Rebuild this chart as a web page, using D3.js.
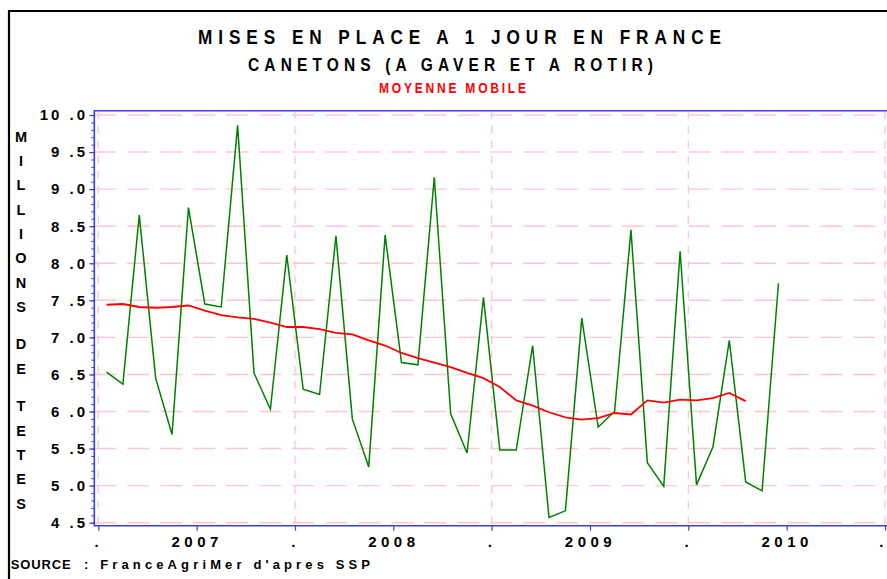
<!DOCTYPE html>
<html>
<head>
<meta charset="utf-8">
<title>Mises en place a 1 jour en France</title>
<style>
  body { margin: 0; background: #fff; }
  svg { display: block; font-family: "Liberation Sans", Arial, sans-serif; font-weight: bold; }
</style>
</head>
<body>
<script src="https://cdn.jsdelivr.net/npm/d3@7/dist/d3.min.js"></script>
<script>
// monthly placements, Jan 2007 .. Jun 2010 (millions of heads)
const months = [
  "2007-01","2007-02","2007-03","2007-04","2007-05","2007-06","2007-07","2007-08","2007-09","2007-10","2007-11","2007-12",
  "2008-01","2008-02","2008-03","2008-04","2008-05","2008-06","2008-07","2008-08","2008-09","2008-10","2008-11","2008-12",
  "2009-01","2009-02","2009-03","2009-04","2009-05","2009-06","2009-07","2009-08","2009-09","2009-10","2009-11","2009-12",
  "2010-01","2010-02","2010-03","2010-04","2010-05","2010-06"
];
const mises = [
  6.53, 6.37, 8.65, 6.45, 5.69, 8.75, 7.45, 7.41, 9.86, 6.52, 6.03, 8.11,
  6.30, 6.23, 8.37, 5.90, 5.25, 8.38, 6.66, 6.63, 9.16, 5.97, 5.44, 7.54,
  5.48, 5.48, 6.89, 4.57, 4.66, 7.26, 5.79, 6.00, 8.45, 5.31, 4.99, 8.16,
  5.01, 5.52, 6.96, 5.05, 4.93, 7.73
];
// moyenne mobile (first 40 months)
const moyenne = [
  7.44, 7.45, 7.41, 7.40, 7.41, 7.43, 7.36, 7.30, 7.27, 7.25, 7.20, 7.14,
  7.14, 7.11, 7.06, 7.04, 6.96, 6.89, 6.79, 6.72, 6.66, 6.60, 6.52, 6.45,
  6.33, 6.15, 6.08, 5.99, 5.92, 5.89, 5.91, 5.98, 5.96, 6.15, 6.12, 6.16,
  6.15, 6.18, 6.25, 6.14
];
const yTicks = [4.5, 5.0, 5.5, 6.0, 6.5, 7.0, 7.5, 8.0, 8.5, 9.0, 9.5, 10.0];
const xLabels = [".", "2007", ".", "2008", ".", "2009", ".", "2010", "."];
const yLabel = "MILLIONS DE TETES";

const width = 887, height = 579;
const plotL = 94.3, plotT = 110.7, plotB = 525.7, plotR = 887;

const svg = d3.select("body").append("svg")
  .attr("width", width)
  .attr("height", height);

svg.append("rect").attr("width", width).attr("height", height).attr("fill", "#fff");

// outer black frame
svg.append("path")
  .attr("d", `M9,${height} V11 H${width}`)
  .attr("fill", "none")
  .attr("stroke", "#000")
  .attr("stroke-width", 2.2);

// titles (glyphs narrowed a bit, spacing stretched to the measured width)
const sx = 0.86;
function title(txt, x0, y0, len, size, fill) {
  svg.append("text")
    .attr("transform", `scale(${sx},1)`)
    .attr("x", x0 / sx).attr("y", y0)
    .attr("font-size", size)
    .attr("textLength", len / sx)
    .attr("fill", fill)
    .text(txt);
}
title("MISES EN PLACE A 1 JOUR EN FRANCE", 198, 44.3, 523, 20, "#000");
title("CANETONS (A GAVER ET A ROTIR)", 248, 71, 405, 18, "#000");
title("MOYENNE MOBILE", 379, 93.3, 147, 14, "#ff0000");

const x = d3.scaleLinear().domain([-0.5, 47.5]).range([98.3, 885]);
const y = d3.scaleLinear().domain([4.5, 10]).range([522.7, 115]);

// grid
const grid = svg.append("g").attr("stroke", "#ffc6cf").attr("stroke-width", 1.4);
grid.selectAll("line.h")
  .data(yTicks)
  .enter().append("line")
  .attr("class", "h")
  .attr("x1", plotL).attr("x2", plotR)
  .attr("y1", d => y(d)).attr("y2", d => y(d))
  .attr("stroke-dasharray", "22,11");
grid.selectAll("line.v")
  .data(xLabels.filter(d => d === ".").map((d, i) => -0.5 + 12 * i))
  .enter().append("line")
  .attr("class", "v")
  .attr("x1", d => x(d)).attr("x2", d => x(d))
  .attr("y1", plotT).attr("y2", plotB)
  .attr("stroke-dasharray", "8,7");

// axes
const axisColor = "#3b3bff";

const yMinor = svg.append("g")
  .attr("transform", `translate(${plotL},0)`)
  .call(d3.axisLeft(y).tickValues(d3.range(45, 101).map(d => d / 10)).tickSize(3).tickFormat(""));
yMinor.select(".domain").remove();
yMinor.selectAll("line").attr("stroke", axisColor);

const yAxis = svg.append("g")
  .attr("transform", `translate(${plotL},0)`)
  .call(d3.axisLeft(y)
    .tickValues(yTicks)
    .tickSize(5)
    .tickPadding(1.3)
    .tickFormat(d => d3.format(".1f")(d).replace(".", " .")));
yAxis.select(".domain").remove();
yAxis.selectAll("line").attr("stroke", axisColor).attr("stroke-width", 1.2);
yAxis.selectAll("text")
  .attr("font-size", 15)
  .attr("font-family", null)
  .attr("fill", "#000")
  .style("letter-spacing", "3px");

const xAxis = svg.append("g")
  .attr("transform", `translate(0,${plotB})`)
  .call(d3.axisBottom(x)
    .tickValues(xLabels.map((d, i) => -0.5 + 6 * i))
    .tickSize(5)
    .tickPadding(5.3)
    .tickFormat((d, i) => xLabels[i]));
xAxis.select(".domain").remove();
xAxis.selectAll("line").attr("stroke", axisColor).attr("stroke-width", 1.2);
xAxis.selectAll("text")
  .attr("font-size", 15)
  .attr("font-family", null)
  .attr("fill", "#000")
  .style("letter-spacing", "4.5px");
// last "." sits right on the edge, keep it inside
xAxis.selectAll("text").filter((d, i) => i === xLabels.length - 1)
  .attr("text-anchor", "end").attr("dx", 2.5);

// plot frame (blue)
svg.append("path")
  .attr("d", `M${plotR},${plotT} H${plotL} V${plotB} H${plotR}`)
  .attr("fill", "none")
  .attr("stroke", axisColor)
  .attr("stroke-width", 1.6);

// series
const line = d3.line()
  .x((d, i) => x(i))
  .y(d => y(d));

svg.append("path")
  .datum(mises)
  .attr("fill", "none")
  .attr("stroke", "#008000")
  .attr("stroke-width", 1.5)
  .attr("d", line);

svg.append("path")
  .datum(moyenne)
  .attr("fill", "none")
  .attr("stroke", "#ff0000")
  .attr("stroke-width", 1.8)
  .attr("d", line);

// vertical y label, one letter per row
let li = 0, sp = 0;
const letters = [];
yLabel.split("").forEach(c => {
  if (c === " ") { sp++; return; }
  letters.push({ c: c, y: 141.7 + 24.3 * li + 13.3 * sp });
  li++;
});
svg.append("g").selectAll("text")
  .data(letters)
  .enter().append("text")
  .attr("x", 21)
  .attr("y", d => d.y)
  .attr("text-anchor", "middle")
  .attr("font-size", 14.5)
  .text(d => d.c);

// source
svg.append("text").attr("x", 10.7).attr("y", 569.3)
  .attr("font-size", 13).attr("textLength", 60)
  .text("SOURCE");
svg.append("text").attr("x", 84).attr("y", 569.3)
  .attr("font-size", 13).attr("textLength", 286)
  .text(": FranceAgriMer d'apres SSP");
</script>
</body>
</html>
